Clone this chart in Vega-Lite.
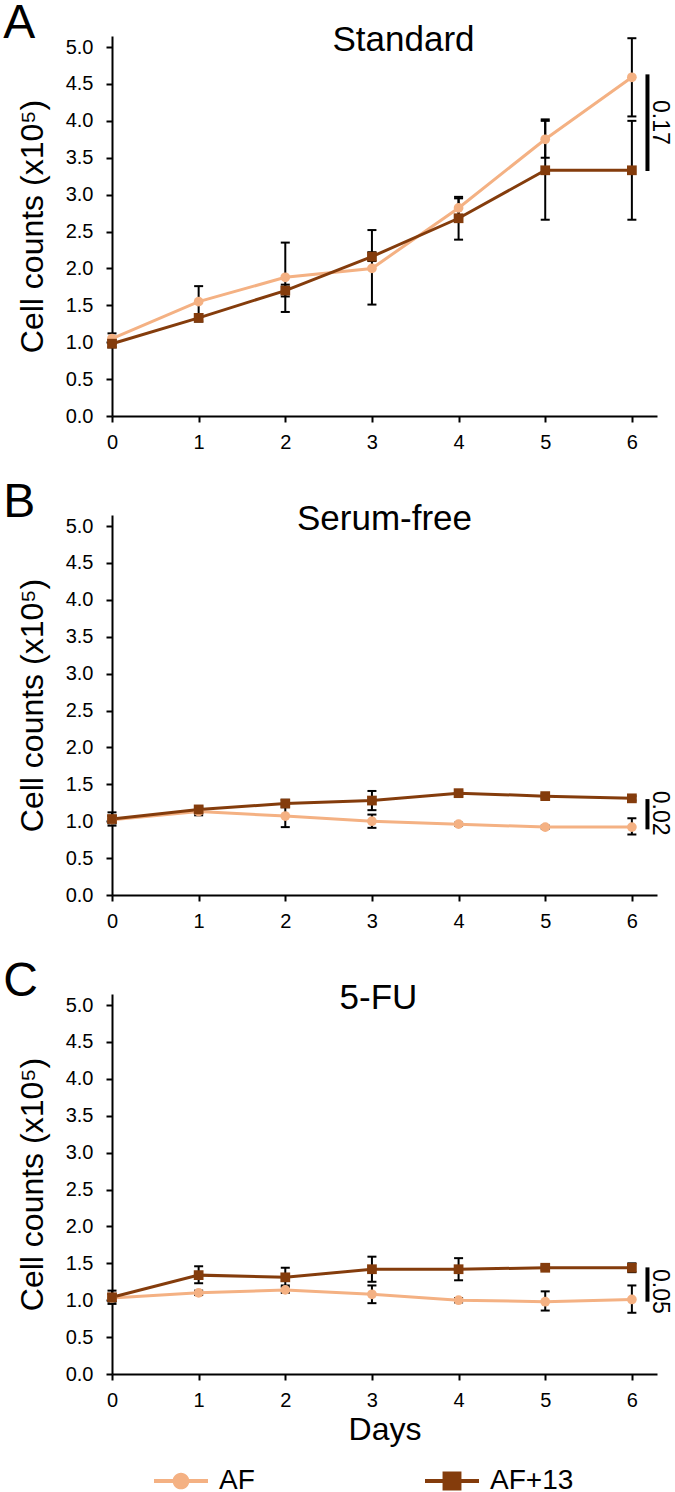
{
  "$schema": "https://vega.github.io/schema/vega-lite/v6.json",
  "background": "white",
  "padding": {"left": 3, "top": 0, "right": 0, "bottom": 0},
  "spacing": 27,
  "resolve": {"scale": {"color": "independent", "shape": "independent"}, "legend": {"color": "independent", "shape": "independent"}},
  "config": {
    "font": "Liberation Sans",
    "view": {"stroke": null},
    "axis": {"domainColor": "black", "domainWidth": 2, "tickColor": "black", "tickWidth": 2, "tickSize": 6, "labelColor": "black", "labelFontSize": 20, "labelFont": "Liberation Sans", "titleFont": "Liberation Sans", "titleColor": "black", "titleFontWeight": "normal", "titleFontSize": 32, "grid": false, "labelFlush": false, "labelOverlap": false},
    "title": {"font": "Liberation Sans", "fontWeight": "normal", "color": "black", "fontSize": 35}
  },
  "datasets": {
    "cells": [
      {"panel": "A", "series": "AF", "day": 0, "mean": 1.05, "lo": 0.98, "hi": 1.12},
      {"panel": "A", "series": "AF", "day": 1, "mean": 1.55, "lo": 1.34, "hi": 1.76},
      {"panel": "A", "series": "AF", "day": 2, "mean": 1.88, "lo": 1.41, "hi": 2.35},
      {"panel": "A", "series": "AF", "day": 3, "mean": 2.0, "lo": 1.51, "hi": 2.52},
      {"panel": "A", "series": "AF", "day": 4, "mean": 2.82, "lo": 2.69, "hi": 2.95},
      {"panel": "A", "series": "AF", "day": 5, "mean": 3.75, "lo": 3.5, "hi": 4.0},
      {"panel": "A", "series": "AF", "day": 6, "mean": 4.59, "lo": 4.06, "hi": 5.12},
      {"panel": "A", "series": "AF+13", "day": 0, "mean": 0.98, "lo": 0.93, "hi": 1.03},
      {"panel": "A", "series": "AF+13", "day": 1, "mean": 1.33, "lo": 1.28, "hi": 1.38},
      {"panel": "A", "series": "AF+13", "day": 2, "mean": 1.7, "lo": 1.62, "hi": 1.78},
      {"panel": "A", "series": "AF+13", "day": 3, "mean": 2.16, "lo": 2.1, "hi": 2.22},
      {"panel": "A", "series": "AF+13", "day": 4, "mean": 2.68, "lo": 2.39, "hi": 2.97},
      {"panel": "A", "series": "AF+13", "day": 5, "mean": 3.33, "lo": 2.66, "hi": 4.02},
      {"panel": "A", "series": "AF+13", "day": 6, "mean": 3.33, "lo": 2.66, "hi": 4.0},
      {"panel": "B", "series": "AF", "day": 0, "mean": 1.02, "lo": 0.97, "hi": 1.07},
      {"panel": "B", "series": "AF", "day": 1, "mean": 1.13, "lo": 1.08, "hi": 1.18},
      {"panel": "B", "series": "AF", "day": 2, "mean": 1.07, "lo": 0.92, "hi": 1.22},
      {"panel": "B", "series": "AF", "day": 3, "mean": 1.0, "lo": 0.91, "hi": 1.09},
      {"panel": "B", "series": "AF", "day": 4, "mean": 0.96, "lo": 0.94, "hi": 0.98},
      {"panel": "B", "series": "AF", "day": 5, "mean": 0.92, "lo": 0.9, "hi": 0.94},
      {"panel": "B", "series": "AF", "day": 6, "mean": 0.92, "lo": 0.82, "hi": 1.04},
      {"panel": "B", "series": "AF+13", "day": 0, "mean": 1.03, "lo": 0.94, "hi": 1.12},
      {"panel": "B", "series": "AF+13", "day": 1, "mean": 1.16, "lo": 1.12, "hi": 1.2},
      {"panel": "B", "series": "AF+13", "day": 2, "mean": 1.24, "lo": 1.19, "hi": 1.29},
      {"panel": "B", "series": "AF+13", "day": 3, "mean": 1.28, "lo": 1.15, "hi": 1.41},
      {"panel": "B", "series": "AF+13", "day": 4, "mean": 1.38, "lo": 1.35, "hi": 1.41},
      {"panel": "B", "series": "AF+13", "day": 5, "mean": 1.34, "lo": 1.31, "hi": 1.37},
      {"panel": "B", "series": "AF+13", "day": 6, "mean": 1.31, "lo": 1.28, "hi": 1.34},
      {"panel": "C", "series": "AF", "day": 0, "mean": 1.03, "lo": 0.98, "hi": 1.08},
      {"panel": "C", "series": "AF", "day": 1, "mean": 1.1, "lo": 1.07, "hi": 1.13},
      {"panel": "C", "series": "AF", "day": 2, "mean": 1.14, "lo": 1.1, "hi": 1.18},
      {"panel": "C", "series": "AF", "day": 3, "mean": 1.08, "lo": 0.96, "hi": 1.2},
      {"panel": "C", "series": "AF", "day": 4, "mean": 1.0, "lo": 0.97, "hi": 1.03},
      {"panel": "C", "series": "AF", "day": 5, "mean": 0.98, "lo": 0.86, "hi": 1.12},
      {"panel": "C", "series": "AF", "day": 6, "mean": 1.01, "lo": 0.83, "hi": 1.2},
      {"panel": "C", "series": "AF+13", "day": 0, "mean": 1.04, "lo": 0.95, "hi": 1.13},
      {"panel": "C", "series": "AF+13", "day": 1, "mean": 1.34, "lo": 1.23, "hi": 1.46},
      {"panel": "C", "series": "AF+13", "day": 2, "mean": 1.31, "lo": 1.2, "hi": 1.44},
      {"panel": "C", "series": "AF+13", "day": 3, "mean": 1.42, "lo": 1.25, "hi": 1.59},
      {"panel": "C", "series": "AF+13", "day": 4, "mean": 1.42, "lo": 1.27, "hi": 1.57},
      {"panel": "C", "series": "AF+13", "day": 5, "mean": 1.44, "lo": 1.41, "hi": 1.47},
      {"panel": "C", "series": "AF+13", "day": 6, "mean": 1.44, "lo": 1.38, "hi": 1.5}
    ],
    "sig": [
      {"panel": "A", "p": "0.17", "top": 4.63, "bottom": 3.32, "mid": 3.98},
      {"panel": "B", "p": "0.02", "top": 1.3, "bottom": 0.89, "mid": 1.11},
      {"panel": "C", "p": "0.05", "top": 1.445, "bottom": 0.98, "mid": 1.12}
    ]
  },
  "vconcat": [
    {
      "title": {"text": "A", "anchor": "start", "frame": "bounds", "fontSize": 48, "offset": -25, "dx": -13},
      "vconcat": [
        {
          "width": 545, "height": 380,
          "title": {"text": "Standard", "offset": -22, "dx": 19},
          "layer": [
            {
              "data": {"name": "cells"},
              "transform": [{"filter": "datum.panel === 'A'"}],
              "layer": [
                {
                  "mark": {"type": "rule", "strokeWidth": 2, "color": "black"},
                  "encoding": {
                    "x": {"field": "day", "type": "quantitative", "scale": {"domain": [0, 6.29], "nice": false}, "axis": {"values": [0, 1, 2, 3, 4, 5, 6], "format": "d", "title": null, "labelPadding": 10}},
                    "y": {"field": "lo", "type": "quantitative", "scale": {"domain": [0, 5.15], "nice": false}, "axis": {"values": [0, 0.5, 1, 1.5, 2, 2.5, 3, 3.5, 4, 4.5, 5], "format": ".1f", "title": "Cell counts (x10⁵)", "labelPadding": 13, "titlePadding": 16}},
                    "y2": {"field": "hi"}
                  }
                },
                {"mark": {"type": "tick", "orient": "horizontal", "size": 9, "thickness": 2, "color": "black", "opacity": 1}, "encoding": {
                  "x": {"field": "day", "type": "quantitative", "scale": {"domain": [0, 6.29], "nice": false}, "axis": {"values": [0, 1, 2, 3, 4, 5, 6], "format": "d", "title": null, "labelPadding": 10}},
                  "y": {"field": "lo", "type": "quantitative", "scale": {"domain": [0, 5.15], "nice": false}, "axis": {"values": [0, 0.5, 1, 1.5, 2, 2.5, 3, 3.5, 4, 4.5, 5], "format": ".1f", "title": "Cell counts (x10⁵)", "labelPadding": 13, "titlePadding": 16}}}},
                {"mark": {"type": "tick", "orient": "horizontal", "size": 9, "thickness": 2, "color": "black", "opacity": 1}, "encoding": {
                  "x": {"field": "day", "type": "quantitative", "scale": {"domain": [0, 6.29], "nice": false}, "axis": {"values": [0, 1, 2, 3, 4, 5, 6], "format": "d", "title": null, "labelPadding": 10}},
                  "y": {"field": "hi", "type": "quantitative", "scale": {"domain": [0, 5.15], "nice": false}, "axis": {"values": [0, 0.5, 1, 1.5, 2, 2.5, 3, 3.5, 4, 4.5, 5], "format": ".1f", "title": "Cell counts (x10⁵)", "labelPadding": 13, "titlePadding": 16}}}},
                {
                  "mark": {"type": "line", "strokeWidth": 3},
                  "encoding": {
                    "x": {"field": "day", "type": "quantitative", "scale": {"domain": [0, 6.29], "nice": false}, "axis": {"values": [0, 1, 2, 3, 4, 5, 6], "format": "d", "title": null, "labelPadding": 10}},
                    "y": {"field": "mean", "type": "quantitative", "scale": {"domain": [0, 5.15], "nice": false}, "axis": {"values": [0, 0.5, 1, 1.5, 2, 2.5, 3, 3.5, 4, 4.5, 5], "format": ".1f", "title": "Cell counts (x10⁵)", "labelPadding": 13, "titlePadding": 16}},
                    "color": {"field": "series", "type": "nominal", "scale": {"domain": ["AF", "AF+13"], "range": ["#F4B183", "#843C0C"]}, "legend": null}
                  }
                },
                {
                  "mark": {"type": "point", "filled": true, "opacity": 1, "size": 95},
                  "encoding": {
                    "x": {"field": "day", "type": "quantitative", "scale": {"domain": [0, 6.29], "nice": false}, "axis": {"values": [0, 1, 2, 3, 4, 5, 6], "format": "d", "title": null, "labelPadding": 10}},
                    "y": {"field": "mean", "type": "quantitative", "scale": {"domain": [0, 5.15], "nice": false}, "axis": {"values": [0, 0.5, 1, 1.5, 2, 2.5, 3, 3.5, 4, 4.5, 5], "format": ".1f", "title": "Cell counts (x10⁵)", "labelPadding": 13, "titlePadding": 16}},
                    "color": {"field": "series", "type": "nominal", "scale": {"domain": ["AF", "AF+13"], "range": ["#F4B183", "#843C0C"]}, "legend": null},
                    "shape": {"field": "series", "type": "nominal", "scale": {"domain": ["AF", "AF+13"], "range": ["circle", "square"]}, "legend": null}
                  }
                }
              ]
            },
            {
              "data": {"name": "sig"},
              "transform": [{"filter": "datum.panel === 'A'"}],
              "layer": [
                {"mark": {"type": "rule", "strokeWidth": 4, "color": "black"}, "encoding": {
                  "x": {"datum": 6.18, "type": "quantitative", "scale": {"domain": [0, 6.29], "nice": false}, "axis": {"values": [0, 1, 2, 3, 4, 5, 6], "format": "d", "title": null, "labelPadding": 10}},
                  "y": {"field": "top", "type": "quantitative", "scale": {"domain": [0, 5.15], "nice": false}, "axis": {"values": [0, 0.5, 1, 1.5, 2, 2.5, 3, 3.5, 4, 4.5, 5], "format": ".1f", "title": "Cell counts (x10⁵)", "labelPadding": 13, "titlePadding": 16}},
                  "y2": {"field": "bottom"}}},
                {"mark": {"type": "text", "angle": 90, "fontSize": 23, "align": "center", "baseline": "middle", "color": "black"}, "encoding": {
                  "x": {"datum": 6.32, "type": "quantitative", "scale": {"domain": [0, 6.29], "nice": false}, "axis": {"values": [0, 1, 2, 3, 4, 5, 6], "format": "d", "title": null, "labelPadding": 10}},
                  "y": {"field": "mid", "type": "quantitative", "scale": {"domain": [0, 5.15], "nice": false}, "axis": {"values": [0, 0.5, 1, 1.5, 2, 2.5, 3, 3.5, 4, 4.5, 5], "format": ".1f", "title": "Cell counts (x10⁵)", "labelPadding": 13, "titlePadding": 16}},
                  "text": {"field": "p"}}}
              ]
            }
          ]
        }
      ]
    },
    {
      "title": {"text": "B", "anchor": "start", "frame": "bounds", "fontSize": 48, "offset": -25, "dx": -13},
      "vconcat": [
        {
          "width": 545, "height": 380,
          "title": {"text": "Serum-free", "offset": -22},
          "layer": [
            {
              "data": {"name": "cells"},
              "transform": [{"filter": "datum.panel === 'B'"}],
              "layer": [
                {
                  "mark": {"type": "rule", "strokeWidth": 2, "color": "black"},
                  "encoding": {
                    "x": {"field": "day", "type": "quantitative", "scale": {"domain": [0, 6.29], "nice": false}, "axis": {"values": [0, 1, 2, 3, 4, 5, 6], "format": "d", "title": null, "labelPadding": 10}},
                    "y": {"field": "lo", "type": "quantitative", "scale": {"domain": [0, 5.15], "nice": false}, "axis": {"values": [0, 0.5, 1, 1.5, 2, 2.5, 3, 3.5, 4, 4.5, 5], "format": ".1f", "title": "Cell counts (x10⁵)", "labelPadding": 13, "titlePadding": 16}},
                    "y2": {"field": "hi"}
                  }
                },
                {"mark": {"type": "tick", "orient": "horizontal", "size": 9, "thickness": 2, "color": "black", "opacity": 1}, "encoding": {
                  "x": {"field": "day", "type": "quantitative", "scale": {"domain": [0, 6.29], "nice": false}, "axis": {"values": [0, 1, 2, 3, 4, 5, 6], "format": "d", "title": null, "labelPadding": 10}},
                  "y": {"field": "lo", "type": "quantitative", "scale": {"domain": [0, 5.15], "nice": false}, "axis": {"values": [0, 0.5, 1, 1.5, 2, 2.5, 3, 3.5, 4, 4.5, 5], "format": ".1f", "title": "Cell counts (x10⁵)", "labelPadding": 13, "titlePadding": 16}}}},
                {"mark": {"type": "tick", "orient": "horizontal", "size": 9, "thickness": 2, "color": "black", "opacity": 1}, "encoding": {
                  "x": {"field": "day", "type": "quantitative", "scale": {"domain": [0, 6.29], "nice": false}, "axis": {"values": [0, 1, 2, 3, 4, 5, 6], "format": "d", "title": null, "labelPadding": 10}},
                  "y": {"field": "hi", "type": "quantitative", "scale": {"domain": [0, 5.15], "nice": false}, "axis": {"values": [0, 0.5, 1, 1.5, 2, 2.5, 3, 3.5, 4, 4.5, 5], "format": ".1f", "title": "Cell counts (x10⁵)", "labelPadding": 13, "titlePadding": 16}}}},
                {
                  "mark": {"type": "line", "strokeWidth": 3},
                  "encoding": {
                    "x": {"field": "day", "type": "quantitative", "scale": {"domain": [0, 6.29], "nice": false}, "axis": {"values": [0, 1, 2, 3, 4, 5, 6], "format": "d", "title": null, "labelPadding": 10}},
                    "y": {"field": "mean", "type": "quantitative", "scale": {"domain": [0, 5.15], "nice": false}, "axis": {"values": [0, 0.5, 1, 1.5, 2, 2.5, 3, 3.5, 4, 4.5, 5], "format": ".1f", "title": "Cell counts (x10⁵)", "labelPadding": 13, "titlePadding": 16}},
                    "color": {"field": "series", "type": "nominal", "scale": {"domain": ["AF", "AF+13"], "range": ["#F4B183", "#843C0C"]}, "legend": null}
                  }
                },
                {
                  "mark": {"type": "point", "filled": true, "opacity": 1, "size": 95},
                  "encoding": {
                    "x": {"field": "day", "type": "quantitative", "scale": {"domain": [0, 6.29], "nice": false}, "axis": {"values": [0, 1, 2, 3, 4, 5, 6], "format": "d", "title": null, "labelPadding": 10}},
                    "y": {"field": "mean", "type": "quantitative", "scale": {"domain": [0, 5.15], "nice": false}, "axis": {"values": [0, 0.5, 1, 1.5, 2, 2.5, 3, 3.5, 4, 4.5, 5], "format": ".1f", "title": "Cell counts (x10⁵)", "labelPadding": 13, "titlePadding": 16}},
                    "color": {"field": "series", "type": "nominal", "scale": {"domain": ["AF", "AF+13"], "range": ["#F4B183", "#843C0C"]}, "legend": null},
                    "shape": {"field": "series", "type": "nominal", "scale": {"domain": ["AF", "AF+13"], "range": ["circle", "square"]}, "legend": null}
                  }
                }
              ]
            },
            {
              "data": {"name": "sig"},
              "transform": [{"filter": "datum.panel === 'B'"}],
              "layer": [
                {"mark": {"type": "rule", "strokeWidth": 4, "color": "black"}, "encoding": {
                  "x": {"datum": 6.18, "type": "quantitative", "scale": {"domain": [0, 6.29], "nice": false}, "axis": {"values": [0, 1, 2, 3, 4, 5, 6], "format": "d", "title": null, "labelPadding": 10}},
                  "y": {"field": "top", "type": "quantitative", "scale": {"domain": [0, 5.15], "nice": false}, "axis": {"values": [0, 0.5, 1, 1.5, 2, 2.5, 3, 3.5, 4, 4.5, 5], "format": ".1f", "title": "Cell counts (x10⁵)", "labelPadding": 13, "titlePadding": 16}},
                  "y2": {"field": "bottom"}}},
                {"mark": {"type": "text", "angle": 90, "fontSize": 23, "align": "center", "baseline": "middle", "color": "black"}, "encoding": {
                  "x": {"datum": 6.32, "type": "quantitative", "scale": {"domain": [0, 6.29], "nice": false}, "axis": {"values": [0, 1, 2, 3, 4, 5, 6], "format": "d", "title": null, "labelPadding": 10}},
                  "y": {"field": "mid", "type": "quantitative", "scale": {"domain": [0, 5.15], "nice": false}, "axis": {"values": [0, 0.5, 1, 1.5, 2, 2.5, 3, 3.5, 4, 4.5, 5], "format": ".1f", "title": "Cell counts (x10⁵)", "labelPadding": 13, "titlePadding": 16}},
                  "text": {"field": "p"}}}
              ]
            }
          ]
        }
      ]
    },
    {
      "title": {"text": "C", "anchor": "start", "frame": "bounds", "fontSize": 48, "offset": -25, "dx": -13},
      "resolve": {"scale": {"color": "independent", "shape": "independent"}, "legend": {"color": "independent", "shape": "independent"}},
      "vconcat": [
        {
          "width": 545, "height": 380,
          "title": {"text": "5-FU", "offset": -22, "dx": -6},
          "resolve": {"scale": {"color": "independent", "shape": "independent"}, "legend": {"color": "independent", "shape": "independent"}},
          "layer": [
            {
              "data": {"name": "cells"},
              "transform": [{"filter": "datum.panel === 'C'"}],
              "layer": [
                {
                  "mark": {"type": "rule", "strokeWidth": 2, "color": "black"},
                  "encoding": {
                    "x": {"field": "day", "type": "quantitative", "scale": {"domain": [0, 6.29], "nice": false}, "axis": {"values": [0, 1, 2, 3, 4, 5, 6], "format": "d", "title": "Days", "labelPadding": 10, "titlePadding": 4}},
                    "y": {"field": "lo", "type": "quantitative", "scale": {"domain": [0, 5.15], "nice": false}, "axis": {"values": [0, 0.5, 1, 1.5, 2, 2.5, 3, 3.5, 4, 4.5, 5], "format": ".1f", "title": "Cell counts (x10⁵)", "labelPadding": 13, "titlePadding": 16}},
                    "y2": {"field": "hi"}
                  }
                },
                {"mark": {"type": "tick", "orient": "horizontal", "size": 9, "thickness": 2, "color": "black", "opacity": 1}, "encoding": {
                  "x": {"field": "day", "type": "quantitative", "scale": {"domain": [0, 6.29], "nice": false}, "axis": {"values": [0, 1, 2, 3, 4, 5, 6], "format": "d", "title": "Days", "labelPadding": 10, "titlePadding": 4}},
                  "y": {"field": "lo", "type": "quantitative", "scale": {"domain": [0, 5.15], "nice": false}, "axis": {"values": [0, 0.5, 1, 1.5, 2, 2.5, 3, 3.5, 4, 4.5, 5], "format": ".1f", "title": "Cell counts (x10⁵)", "labelPadding": 13, "titlePadding": 16}}}},
                {"mark": {"type": "tick", "orient": "horizontal", "size": 9, "thickness": 2, "color": "black", "opacity": 1}, "encoding": {
                  "x": {"field": "day", "type": "quantitative", "scale": {"domain": [0, 6.29], "nice": false}, "axis": {"values": [0, 1, 2, 3, 4, 5, 6], "format": "d", "title": "Days", "labelPadding": 10, "titlePadding": 4}},
                  "y": {"field": "hi", "type": "quantitative", "scale": {"domain": [0, 5.15], "nice": false}, "axis": {"values": [0, 0.5, 1, 1.5, 2, 2.5, 3, 3.5, 4, 4.5, 5], "format": ".1f", "title": "Cell counts (x10⁵)", "labelPadding": 13, "titlePadding": 16}}}},
                {
                  "mark": {"type": "line", "strokeWidth": 3},
                  "encoding": {
                    "x": {"field": "day", "type": "quantitative", "scale": {"domain": [0, 6.29], "nice": false}, "axis": {"values": [0, 1, 2, 3, 4, 5, 6], "format": "d", "title": "Days", "labelPadding": 10, "titlePadding": 4}},
                    "y": {"field": "mean", "type": "quantitative", "scale": {"domain": [0, 5.15], "nice": false}, "axis": {"values": [0, 0.5, 1, 1.5, 2, 2.5, 3, 3.5, 4, 4.5, 5], "format": ".1f", "title": "Cell counts (x10⁵)", "labelPadding": 13, "titlePadding": 16}},
                    "color": {"field": "series", "type": "nominal", "scale": {"domain": ["AF", "AF+13"], "range": ["#F4B183", "#843C0C"]}, "legend": null}
                  }
                },
                {
                  "mark": {"type": "point", "filled": true, "opacity": 1, "size": 95},
                  "encoding": {
                    "x": {"field": "day", "type": "quantitative", "scale": {"domain": [0, 6.29], "nice": false}, "axis": {"values": [0, 1, 2, 3, 4, 5, 6], "format": "d", "title": "Days", "labelPadding": 10, "titlePadding": 4}},
                    "y": {"field": "mean", "type": "quantitative", "scale": {"domain": [0, 5.15], "nice": false}, "axis": {"values": [0, 0.5, 1, 1.5, 2, 2.5, 3, 3.5, 4, 4.5, 5], "format": ".1f", "title": "Cell counts (x10⁵)", "labelPadding": 13, "titlePadding": 16}},
                    "color": {"field": "series", "type": "nominal", "scale": {"domain": ["AF", "AF+13"], "range": ["#F4B183", "#843C0C"]}, "legend": null},
                    "shape": {"field": "series", "type": "nominal", "scale": {"domain": ["AF", "AF+13"], "range": ["circle", "square"]}, "legend": null}
                  }
                }
              ]
            },
            {
              "data": {"name": "sig"},
              "transform": [{"filter": "datum.panel === 'C'"}],
              "layer": [
                {"mark": {"type": "rule", "strokeWidth": 4, "color": "black"}, "encoding": {
                  "x": {"datum": 6.18, "type": "quantitative", "scale": {"domain": [0, 6.29], "nice": false}, "axis": {"values": [0, 1, 2, 3, 4, 5, 6], "format": "d", "title": "Days", "labelPadding": 10, "titlePadding": 4}},
                  "y": {"field": "top", "type": "quantitative", "scale": {"domain": [0, 5.15], "nice": false}, "axis": {"values": [0, 0.5, 1, 1.5, 2, 2.5, 3, 3.5, 4, 4.5, 5], "format": ".1f", "title": "Cell counts (x10⁵)", "labelPadding": 13, "titlePadding": 16}},
                  "y2": {"field": "bottom"}}},
                {"mark": {"type": "text", "angle": 90, "fontSize": 23, "align": "center", "baseline": "middle", "color": "black"}, "encoding": {
                  "x": {"datum": 6.32, "type": "quantitative", "scale": {"domain": [0, 6.29], "nice": false}, "axis": {"values": [0, 1, 2, 3, 4, 5, 6], "format": "d", "title": "Days", "labelPadding": 10, "titlePadding": 4}},
                  "y": {"field": "mid", "type": "quantitative", "scale": {"domain": [0, 5.15], "nice": false}, "axis": {"values": [0, 0.5, 1, 1.5, 2, 2.5, 3, 3.5, 4, 4.5, 5], "format": ".1f", "title": "Cell counts (x10⁵)", "labelPadding": 13, "titlePadding": 16}},
                  "text": {"field": "p"}}}
              ]
            },
            {
              "data": {"name": "cells"},
              "transform": [{"filter": "datum.panel === 'none'"}],
              "mark": {"type": "point", "filled": true, "opacity": 1, "size": 729},
              "encoding": {
                "x": {"field": "day", "type": "quantitative", "scale": {"domain": [0, 6.29], "nice": false}, "axis": {"values": [0, 1, 2, 3, 4, 5, 6], "format": "d", "title": "Days", "labelPadding": 10, "titlePadding": 4}},
                "y": {"field": "mean", "type": "quantitative", "scale": {"domain": [0, 5.15], "nice": false}, "axis": {"values": [0, 0.5, 1, 1.5, 2, 2.5, 3, 3.5, 4, 4.5, 5], "format": ".1f", "title": "Cell counts (x10⁵)", "labelPadding": 13, "titlePadding": 16}},
                "color": {"field": "series", "type": "nominal", "scale": {"domain": ["AF", "AF+13"], "range": ["#F4B183", "#843C0C"]}, "legend": {"orient": "none", "legendX": 55, "legendY": 473, "direction": "horizontal", "columns": 2, "columnPadding": 170, "title": null, "labelFontSize": 28, "labelFont": "Liberation Sans", "labelColor": "black", "labelOffset": 24, "symbolSize": 729, "symbolStrokeWidth": 0}},
                "shape": {"field": "series", "type": "nominal", "scale": {"domain": ["AF", "AF+13"], "range": ["M-2,-0.15H-0.6V0.15H-2Z M0.6,-0.15H2V0.15H0.6Z M0.62,0A0.62,0.62 0 1,1 -0.62,0A0.62,0.62 0 1,1 0.62,0Z", "M-2,-0.15H-0.7V0.15H-2Z M0.7,-0.15H2V0.15H0.7Z M-0.7,-0.7H0.7V0.7H-0.7Z"]}, "legend": {"orient": "none", "legendX": 55, "legendY": 473, "direction": "horizontal", "columns": 2, "columnPadding": 170, "title": null, "labelFontSize": 28, "labelFont": "Liberation Sans", "labelColor": "black", "labelOffset": 24, "symbolSize": 729, "symbolStrokeWidth": 0}}
              }
            }
          ]
        }
      ]
    }
  ]
}
